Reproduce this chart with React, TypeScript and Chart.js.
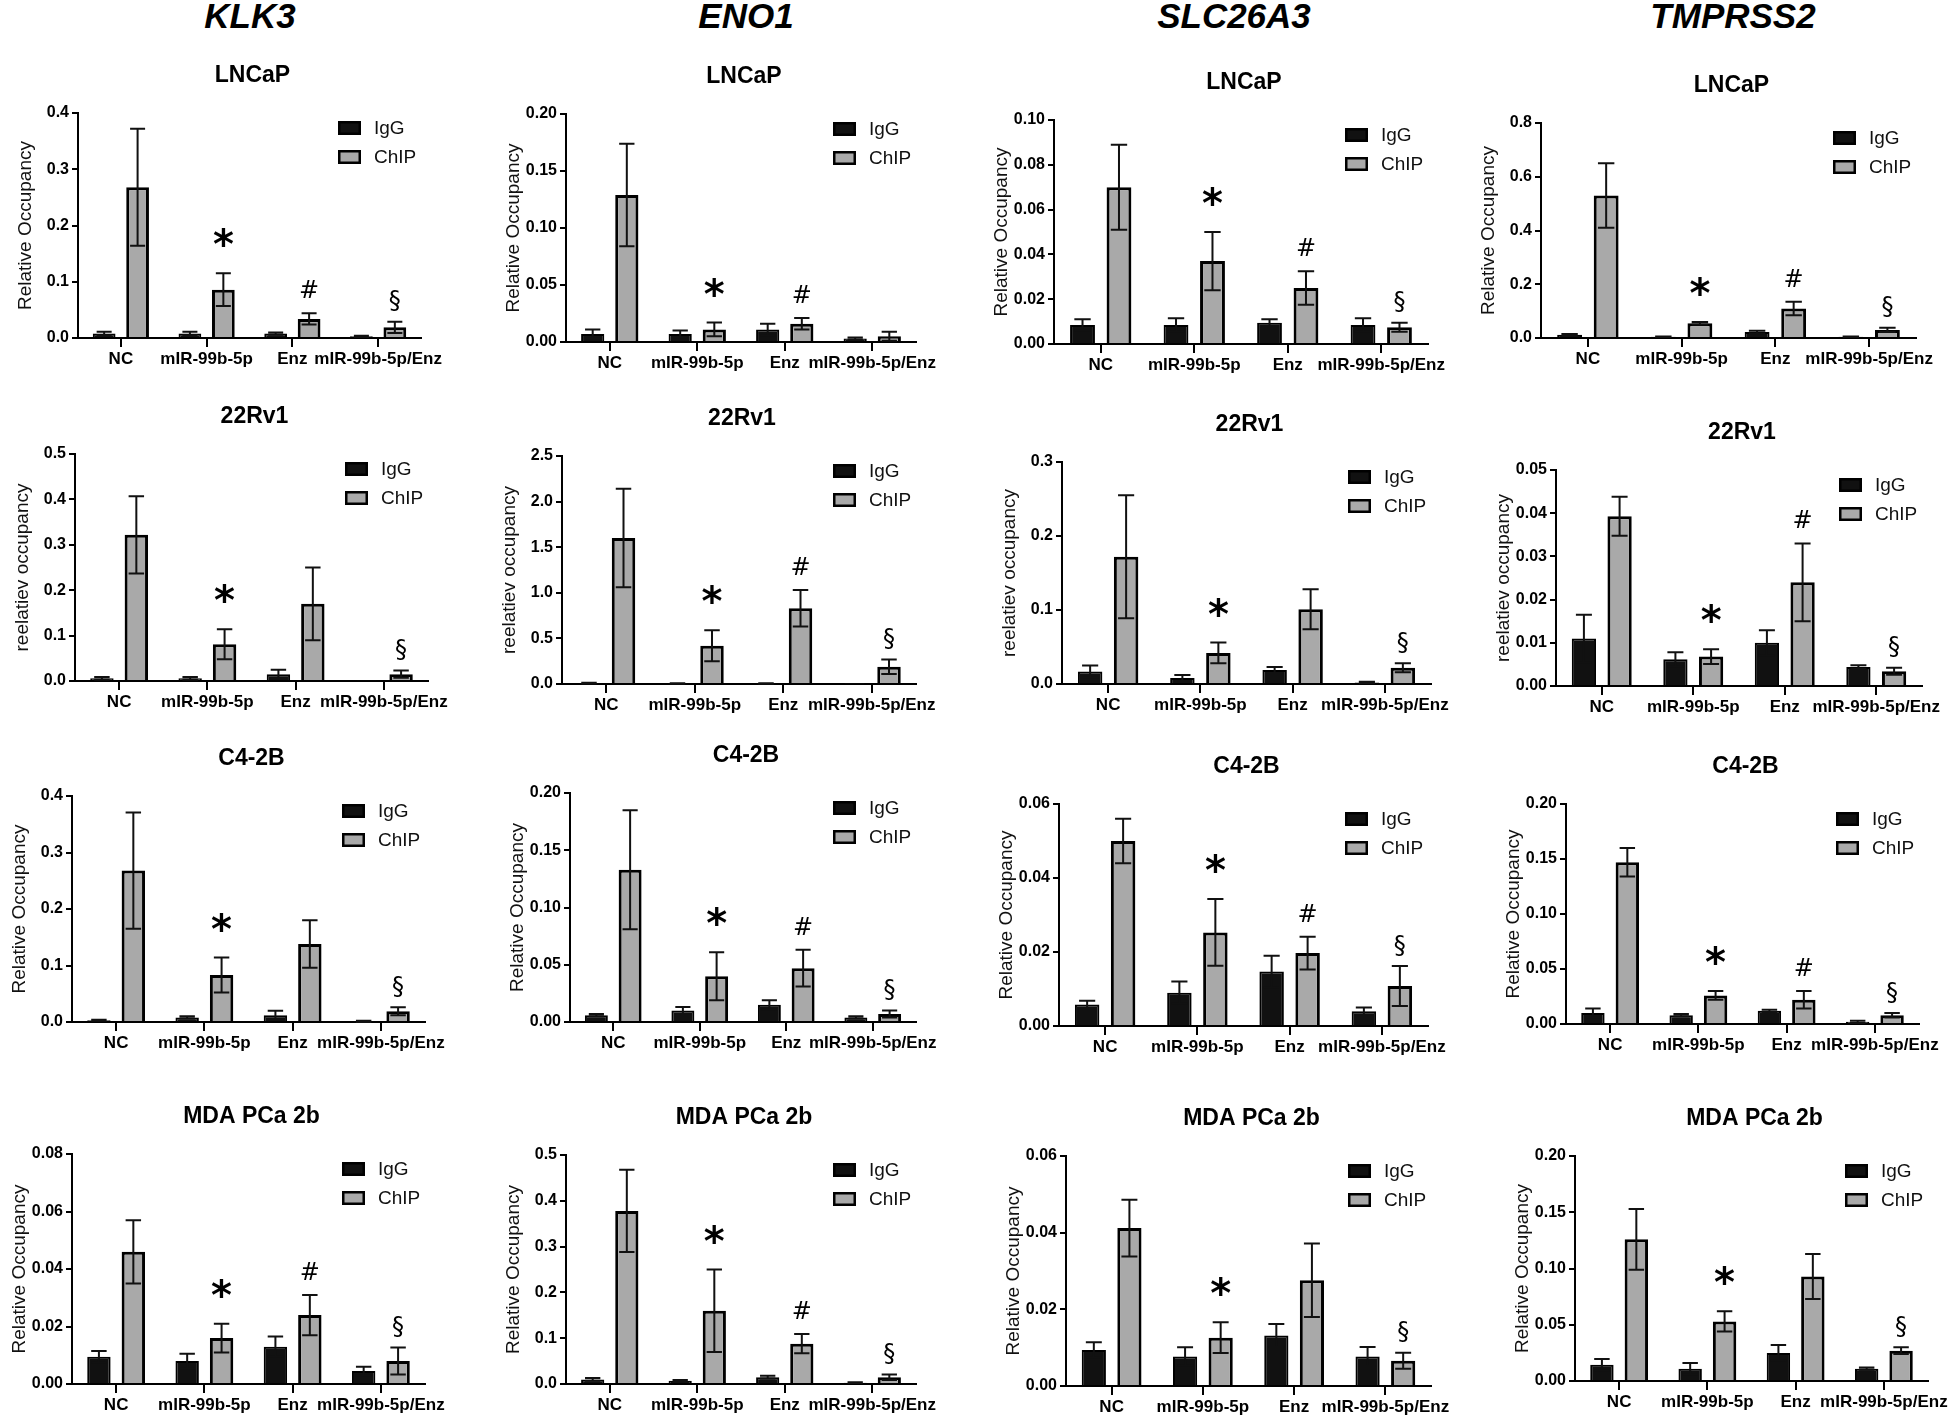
import React, { useEffect, useRef } from "react"
import { Chart, registerables } from "chart.js"

Chart.register(...registerables)

const genes = ["KLK3", "ENO1", "SLC26A3", "TMPRSS2"]
const cellLines = ["LNCaP", "22Rv1", "C4-2B", "MDA PCa 2b"]
const groups = ["NC", "mIR-99b-5p", "Enz", "mIR-99b-5p/Enz"]
const yTitles = ["Relative Occupancy", "reelatiev occupancy", "Relative Occupancy", "Relative Occupancy"]

// rows: LNCaP, 22Rv1, C4-2B, MDA PCa 2b ; columns: groups
const klk3IgG = [[0.008, 0.008, 0.008, 0.003], [0.006, 0.006, 0.015, 0.001], [0.003, 0.008, 0.012, 0.001], [0.0095, 0.008, 0.013, 0.0045]]
const klk3IgGErr = [[0.003, 0.003, 0.002, 0.001], [0.003, 0.003, 0.01, 0], [0.001, 0.002, 0.008, 0.001], [0.002, 0.0025, 0.0035, 0.0015]]
const klk3ChIP = [[0.268, 0.086, 0.034, 0.019], [0.322, 0.081, 0.17, 0.015], [0.268, 0.083, 0.138, 0.019], [0.046, 0.016, 0.024, 0.008]]
const klk3ChIPErr = [[0.104, 0.029, 0.01, 0.01], [0.085, 0.033, 0.08, 0.008], [0.103, 0.031, 0.042, 0.007], [0.011, 0.005, 0.007, 0.0047]]
const klk3Marks = [["", "*", "#", "§"], ["", "*", "", "§"], ["", "*", "", "§"], ["", "*", "#", "§"]]
const klk3YMax = [0.4, 0.5, 0.4, 0.08]
const klk3YStep = [0.1, 0.1, 0.1, 0.02]

const eno1IgG = [[0.007, 0.007, 0.011, 0.003], [0.01, 0.005, 0.005, 0.002], [0.006, 0.01, 0.015, 0.004], [0.01, 0.007, 0.015, 0.003]]
const eno1IgGErr = [[0.004, 0.003, 0.005, 0.001], [0.005, 0.003, 0.003, 0], [0.001, 0.003, 0.004, 0.001], [0.003, 0.002, 0.003, 0.001]]
const eno1ChIP = [[0.129, 0.011, 0.016, 0.005], [1.6, 0.42, 0.83, 0.19], [0.133, 0.04, 0.047, 0.007], [0.378, 0.16, 0.088, 0.015]]
const eno1ChIPErr = [[0.045, 0.006, 0.005, 0.004], [0.54, 0.17, 0.2, 0.08], [0.052, 0.021, 0.016, 0.003], [0.09, 0.09, 0.021, 0.006]]
const eno1Marks = [["", "*", "#", ""], ["", "*", "#", "§"], ["", "*", "#", "§"], ["", "*", "#", "§"]]
const eno1YMax = [0.2, 2.5, 0.2, 0.5]
const eno1YStep = [0.05, 0.5, 0.05, 0.1]

const slc26a3IgG = [[0.0085, 0.0085, 0.0095, 0.0085], [0.017, 0.008, 0.019, 0.002], [0.0058, 0.009, 0.0147, 0.004], [0.0094, 0.0077, 0.0132, 0.0077]]
const slc26a3IgGErr = [[0.0025, 0.003, 0.0015, 0.003], [0.008, 0.004, 0.004, 0.001], [0.001, 0.003, 0.0043, 0.001], [0.002, 0.0024, 0.003, 0.0025]]
const slc26a3ChIP = [[0.07, 0.037, 0.025, 0.0075], [0.172, 0.042, 0.101, 0.022], [0.05, 0.0253, 0.0197, 0.0108], [0.0412, 0.0126, 0.0276, 0.0066]]
const slc26a3ChIPErr = [[0.019, 0.013, 0.0075, 0.002], [0.083, 0.014, 0.027, 0.006], [0.006, 0.009, 0.0044, 0.0054], [0.0074, 0.004, 0.0096, 0.0021]]
const slc26a3Marks = [["", "*", "#", "§"], ["", "*", "", "§"], ["", "*", "#", "§"], ["", "*", "", "§"]]
const slc26a3YMax = [0.1, 0.3, 0.06, 0.06]
const slc26a3YStep = [0.02, 0.1, 0.02, 0.02]

const tmprss2IgG = [[0.012, 0.005, 0.022, 0.005], [0.011, 0.0062, 0.01, 0.0044], [0.01, 0.008, 0.012, 0.002], [0.0145, 0.011, 0.025, 0.011]]
const tmprss2IgGErr = [[0.003, 0.001, 0.005, 0.001], [0.0055, 0.0016, 0.0029, 0.0004], [0.004, 0.001, 0.001, 0.001], [0.005, 0.005, 0.007, 0.001]]
const tmprss2ChIP = [[0.53, 0.055, 0.11, 0.03], [0.0393, 0.0068, 0.024, 0.0034], [0.147, 0.026, 0.022, 0.008], [0.126, 0.053, 0.093, 0.027]]
const tmprss2ChIPErr = [[0.12, 0.005, 0.025, 0.008], [0.0045, 0.0017, 0.009, 0.0008], [0.013, 0.004, 0.008, 0.002], [0.027, 0.009, 0.02, 0.003]]
const tmprss2Marks = [["", "*", "#", "§"], ["", "*", "#", "§"], ["", "*", "#", "§"], ["", "*", "", "§"]]
const tmprss2YMax = [0.8, 0.05, 0.2, 0.2]
const tmprss2YStep = [0.2, 0.01, 0.05, 0.05]

// plot-area boxes on the page, [row][col]
const plotLeft = [[78, 566, 1054, 1541], [75, 562, 1062, 1556], [72, 570, 1059, 1566], [72, 566, 1066, 1575]]
const plotRight = [[421, 916, 1428, 1916], [428, 916, 1431, 1922], [425, 916, 1428, 1919], [425, 916, 1431, 1928]]
const plotTop = [[113, 114, 120, 123], [454, 456, 462, 470], [796, 793, 804, 804], [1154, 1155, 1156, 1156]]
const plotBottom = [[338, 342, 344, 338], [681, 684, 684, 686], [1022, 1022, 1026, 1024], [1384, 1384, 1386, 1381]]
const geneTitleX = [250, 746, 1234, 1733]

const PAD_L = 77
const PAD_T = 70
const PAD_R = 40
const PAD_B = 45
const Y_W = 64
const X_H = 38
const FONT = "'Liberation Sans', Arial, sans-serif"
const MARK_FONT = "'DejaVu Sans', sans-serif"
const GREY = "#a9a9a9"

const geneData = [
    { igg: klk3IgG, iggErr: klk3IgGErr, chip: klk3ChIP, chipErr: klk3ChIPErr, marks: klk3Marks, yMax: klk3YMax, yStep: klk3YStep },
    { igg: eno1IgG, iggErr: eno1IgGErr, chip: eno1ChIP, chipErr: eno1ChIPErr, marks: eno1Marks, yMax: eno1YMax, yStep: eno1YStep },
    { igg: slc26a3IgG, iggErr: slc26a3IgGErr, chip: slc26a3ChIP, chipErr: slc26a3ChIPErr, marks: slc26a3Marks, yMax: slc26a3YMax, yStep: slc26a3YStep },
    { igg: tmprss2IgG, iggErr: tmprss2IgGErr, chip: tmprss2ChIP, chipErr: tmprss2ChIPErr, marks: tmprss2Marks, yMax: tmprss2YMax, yStep: tmprss2YStep },
]

// glyph size and gap above the error bar for each significance mark
const markStyle: Record<string, { font: string; gap: number }> = {
    "*": { font: `bold 40px ${MARK_FONT}`, gap: 36 },
    "#": { font: `24px ${MARK_FONT}`, gap: 24 },
    "§": { font: `24px ${MARK_FONT}`, gap: 21 },
}

interface PanelProps {
    row: number;
    col: number;
}

function Panel({ row, col }: PanelProps) {
    const canvasRef = useRef<HTMLCanvasElement>(null)
    const g = geneData[col]
    const w = plotRight[row][col] - plotLeft[row][col] + PAD_L + PAD_R
    const h = plotBottom[row][col] - plotTop[row][col] + PAD_T + PAD_B

    useEffect(() => {
        const igg = g.igg[row]
        const chip = g.chip[row]
        const errs = [g.iggErr[row], g.chipErr[row]]
        const marks = g.marks[row]
        const step = g.yStep[row]
        const decimals = step < 0.099 ? 2 : 1

        const decor = {
            id: "decor",
            afterDatasetsDraw(chart: any) {
                const ctx = chart.ctx as CanvasRenderingContext2D
                const y = chart.scales.y
                ctx.save()
                ctx.strokeStyle = "#111"
                ctx.lineWidth = 2
                chart.data.datasets.forEach((ds: any, di: number) => {
                    chart.getDatasetMeta(di).data.forEach((bar: any, i: number) => {
                        const v = ds.data[i] as number
                        const e = errs[di][i]
                        if (!e) return
                        const cap = bar.width * 0.33
                        const hi = y.getPixelForValue(v + e)
                        const lo = y.getPixelForValue(Math.max(0, v - e))
                        ctx.beginPath()
                        ctx.moveTo(bar.x, hi)
                        ctx.lineTo(bar.x, lo)
                        ctx.moveTo(bar.x - cap, hi)
                        ctx.lineTo(bar.x + cap, hi)
                        ctx.moveTo(bar.x - cap, lo)
                        ctx.lineTo(bar.x + cap, lo)
                        ctx.stroke()
                    })
                })
                // significance marks over ChIP bars
                ctx.fillStyle = "#000"
                ctx.textAlign = "center"
                ctx.textBaseline = "alphabetic"
                chart.getDatasetMeta(1).data.forEach((bar: any, i: number) => {
                    const m = marks[i]
                    if (!m) return
                    const st = markStyle[m]
                    ctx.font = st.font
                    const top = y.getPixelForValue(chip[i] + errs[1][i])
                    const cy = top - st.gap
                    const mt = ctx.measureText(m)
                    ctx.fillText(m, bar.x, cy + (mt.actualBoundingBoxAscent - mt.actualBoundingBoxDescent) / 2)
                })
                ctx.restore()
            },
            afterDraw(chart: any) {
                const ctx = chart.ctx as CanvasRenderingContext2D
                const a = chart.chartArea
                ctx.save()
                // cell line subtitle
                ctx.fillStyle = "#000"
                ctx.font = `bold 23px ${FONT}`
                ctx.textAlign = "center"
                ctx.textBaseline = "middle"
                ctx.fillText(cellLines[row], (a.left + a.right) / 2 + 3, a.top - 37)
                // legend
                const sx = a.right - 83
                const items = [{ label: "IgG", fill: "#111" }, { label: "ChIP", fill: GREY }]
                items.forEach((it, k) => {
                    const cy = a.top + 15 + k * 29
                    ctx.fillStyle = it.fill
                    ctx.fillRect(sx, cy - 7, 23, 14)
                    ctx.strokeStyle = "#000"
                    ctx.lineWidth = 2.5
                    ctx.strokeRect(sx + 1.25, cy - 5.75, 20.5, 11.5)
                    ctx.fillStyle = "#111"
                    ctx.font = `19px ${FONT}`
                    ctx.textAlign = "left"
                    ctx.fillText(it.label, sx + 36, cy + 1)
                })
                ctx.restore()
            },
        }

        const chart = new Chart(canvasRef.current as HTMLCanvasElement, {
            type: "bar",
            data: {
                labels: groups,
                datasets: [
                    { label: "IgG", data: igg, backgroundColor: "#111", borderColor: "#000", borderWidth: 2 },
                    { label: "ChIP", data: chip, backgroundColor: GREY, borderColor: "#000", borderWidth: 3 },
                ],
            },
            options: {
                animation: false,
                responsive: false,
                devicePixelRatio: 1,
                datasets: { bar: { categoryPercentage: 0.78, barPercentage: 0.68 } },
                layout: { padding: { left: PAD_L - Y_W, top: PAD_T, right: PAD_R, bottom: PAD_B - X_H } },
                plugins: { legend: { display: false }, tooltip: { enabled: false }, title: { display: false } },
                scales: {
                    x: {
                        afterFit: (s: any) => { s.height = X_H },
                        border: { display: true, color: "#000", width: 2 },
                        grid: { offset: false, drawOnChartArea: false, drawTicks: true, tickLength: 9, color: "#000", lineWidth: 2 },
                        ticks: { autoSkip: false, maxRotation: 0, minRotation: 0, padding: 2, color: "#000", font: { family: FONT, size: 17, weight: "bold" } },
                    },
                    y: {
                        min: 0,
                        max: g.yMax[row],
                        afterFit: (s: any) => { s.width = Y_W },
                        border: { display: true, color: "#000", width: 2 },
                        grid: { drawOnChartArea: false, drawTicks: true, tickLength: 6, color: "#000", lineWidth: 2 },
                        ticks: {
                            stepSize: step,
                            padding: 3,
                            color: "#000",
                            font: { family: FONT, size: 16, weight: "bold" },
                            callback: (v: any) => Number(v).toFixed(decimals),
                        },
                        title: { display: true, text: yTitles[row], color: "#111", font: { family: FONT, size: 19 }, padding: 0 },
                    },
                },
            },
            plugins: [decor],
        } as any)

        return () => {
            chart.destroy()
        }
    }, [row, col])

    return (
        <canvas
            ref={canvasRef}
            width={w}
            height={h}
            style={{ position: "absolute", left: plotLeft[row][col] - PAD_L, top: plotTop[row][col] - PAD_T, width: w, height: h }}
        />
    )
}

export default function App() {
    return (
        <div style={{ position: "absolute", left: 0, top: 0, width: 1949, height: 1419, overflow: "hidden", background: "#fff" }}>
            {genes.map((gene, c) => (
                <div
                    key={gene}
                    style={{
                        position: "absolute", left: geneTitleX[c] - 150, top: -5, width: 300, lineHeight: "42px",
                        textAlign: "center", fontFamily: FONT, fontWeight: "bold", fontStyle: "italic", fontSize: 35, color: "#000",
                    }}
                >
                    {gene}
                </div>
            ))}
            {cellLines.map((_, r) => genes.map((_, c) => <Panel key={r + "-" + c} row={r} col={c} />))}
        </div>
    )
}
